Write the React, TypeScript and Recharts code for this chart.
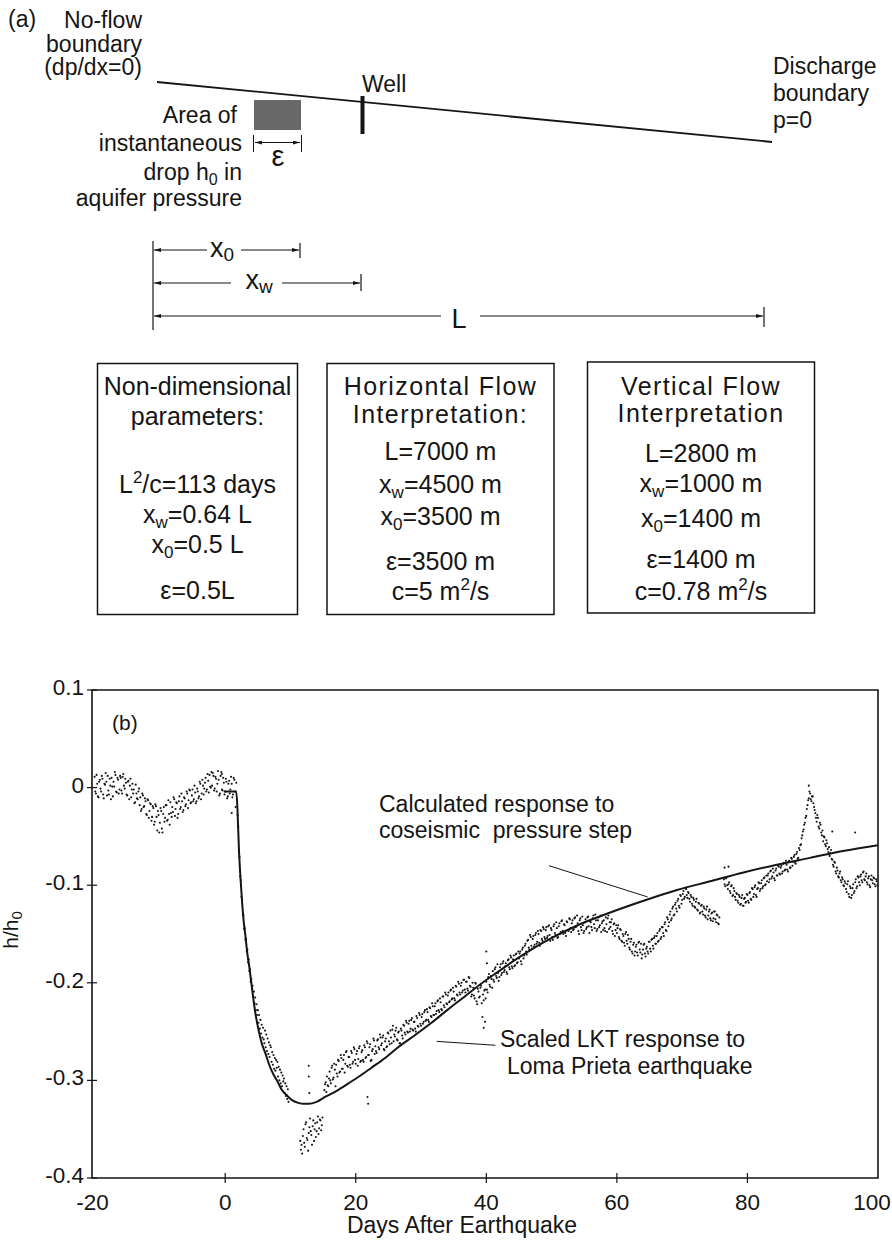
import React from "react";
import {
  ComposedChart,
  Scatter,
  Line,
  XAxis,
  YAxis,
  ReferenceArea,
  ReferenceLine,
} from "recharts";

const FONT = '"Liberation Sans", Arial, Helvetica, sans-serif';
const INK = "#151515";

// ---- panel (b) data ----
const dayTicks = [-20, 0, 20, 40, 60, 80, 100];
const ratioTicks = [0.1, 0, -0.1, -0.2, -0.3, -0.4];
const dayDomain = [-20.4, 100];
const ratioDomain = [-0.4, 0.1];

// calculated response to the coseismic pressure step
const calcDays = [
  -0.2, 1.7, 1.9, 2.1, 2.35, 2.6, 2.85, 3.1, 3.4, 3.7, 4.1, 4.6, 5.1, 5.6, 6.2,
  6.8, 7.4, 8.0, 8.7, 9.4, 10.2, 11.2, 12.0, 12.8, 14.0, 15.3, 17.0, 18.9, 20.5,
  22.4, 24.5, 26.5, 29.0, 31.6, 34.0, 36.7, 39.0, 41.3, 45.0, 48.9, 54.0, 59.0,
  64.1, 69.2, 74.3, 79.4, 84.5, 89.6, 94.6, 100,
];
const calcValues = [
  -0.004, -0.004, -0.025, -0.062, -0.093, -0.118, -0.138, -0.152, -0.17, -0.184,
  -0.205, -0.23, -0.248, -0.262, -0.273, -0.285, -0.294, -0.301, -0.31, -0.315,
  -0.32, -0.323, -0.324, -0.324, -0.322, -0.317, -0.311, -0.303, -0.296, -0.287,
  -0.277, -0.266, -0.254, -0.241, -0.228, -0.214, -0.202, -0.191, -0.174, -0.158,
  -0.141, -0.128, -0.116, -0.105, -0.096, -0.087, -0.079, -0.072, -0.065, -0.059,
];

// scaled LKT record: first entry is the day, then samples every 0.1 day
const SAMPLE_STEP = 0.1;
const observedRows: (number | null)[][] = [
  [-20, 0.011, -0.004, -0.006, 0.013, 0.004, -0.009, -0.01, 0.006, 0.008, -0.001],
  [-19, -0.004, 0.012, 0.009, -0.007, -0.011, 0.004, 0.003, 0.015, 0.006, -0.008],
  [-18, 0.012, -0.003, -0.007, 0.009, 0.002, -0.012, 0.01, 0.001, -0.009, 0.006],
  [-17, 0.001, 0.016, 0.013, -0.004, -0.005, 0.01, 0.008, -0.006, -0.002, 0.012],
  [-16, 0.01, -0.003, -0.006, 0.011, 0.014, 0.002, -0.001, 0.009, 0.005, -0.007],
  [-15, -0.008, 0.006, 0.007, -0.012, 0.002, 0.009, -0.01, -0.002, 0.004, -0.006],
  [-14, -0.002, -0.016, -0.015, 0.003, -0.006, -0.011, -0.012, -0.004, -0.001, -0.018],
  [-13, -0.01, -0.024, -0.022, -0.006, -0.008, -0.02, -0.019, -0.011, -0.014, -0.027],
  [-12, -0.028, -0.012, -0.013, -0.031, -0.024, -0.016, -0.017, -0.034, -0.03, -0.019],
  [-11, -0.021, -0.038, -0.035, -0.017, -0.019, -0.03, -0.044, -0.024, -0.028, -0.046],
  [-10, -0.036, -0.021, -0.024, -0.042, -0.046, -0.027, -0.02, -0.035, -0.031, -0.018],
  [-9, -0.018, -0.034, -0.033, -0.013, -0.027, -0.038, -0.015, -0.026, -0.03, -0.02],
  [-8, -0.025, -0.01, -0.012, -0.029, -0.022, -0.015, -0.016, -0.031, -0.027, -0.014],
  [-7, -0.009, -0.022, -0.02, -0.006, -0.014, -0.025, -0.023, -0.01, -0.011, -0.019],
  [-6, -0.017, -0.004, -0.006, -0.021, -0.013, -0.002, -0.003, -0.016, -0.015, -0.008],
  [-5, -0.002, -0.014, -0.012, 0.002, -0.005, -0.016, -0.014, -0.001, -0.004, -0.011],
  [-4, -0.009, 0.006, 0.004, -0.012, -0.006, 0.008, 0.002, -0.007, -0.001, 0.005],
  [-3, 0.01, -0.004, -0.002, 0.014, 0.007, -0.005, 0.013, 0.001, 0.0, 0.016],
  [-2, 0.002, 0.015, 0.012, -0.003, -0.001, 0.011, 0.009, -0.004, 0.004, 0.017],
  [-1, 0.008, -0.008, -0.006, 0.012, 0.016, -0.002, -0.003, 0.01, 0.005, -0.007],
  [0, -0.004, 0.009, 0.006, -0.011, -0.009, 0.004, 0.007, -0.006, -0.002, 0.011],
  [1, 0.004, -0.01, -0.007, 0.01, 0.008, -0.004, -0.02, 0.005, -0.012, -0.028],
  [2, -0.04, -0.066, -0.071, -0.091, -0.095, -0.112, -0.115, -0.13, -0.131, -0.145],
  [3, -0.144, -0.156, -0.155, -0.168, -0.166, -0.179, -0.176, -0.188, -0.186, -0.199],
  [4, -0.196, -0.206, -0.203, -0.214, -0.209, -0.221, -0.215, -0.228, -0.222, -0.233],
  [5, -0.228, -0.241, -0.233, -0.247, -0.238, -0.252, -0.243, -0.256, -0.246, -0.258],
  [6, -0.262, -0.249, -0.266, -0.253, -0.27, -0.257, -0.273, -0.261, -0.276, -0.264],
  [7, -0.266, -0.281, -0.271, -0.284, -0.274, -0.288, -0.277, -0.29, -0.279, -0.287],
  [8, -0.281, -0.296, -0.286, -0.3, -0.289, -0.303, -0.292, -0.306, -0.295, -0.301],
  [9, -0.298, -0.313, -0.303, -0.316, -0.306, -0.319, -0.309, -0.322, null, null],
  [11, null, null, null, null, null, -0.362, -0.371, -0.366, -0.375, -0.357],
  [12, -0.35, -0.364, -0.368, -0.345, -0.343, -0.359, -0.361, -0.372, -0.354, -0.348],
  [13, -0.339, -0.352, -0.356, -0.366, -0.347, -0.341, -0.362, -0.35, -0.344, -0.358],
  [14, -0.352, -0.343, -0.337, -0.355, -0.349, -0.34, -0.341, -0.351, -0.346, -0.338],
  [15, null, null, -0.31, -0.304, -0.302, -0.312, -0.296, -0.305, -0.306, -0.298],
  [16, -0.291, -0.3, -0.303, -0.287, -0.285, -0.299, -0.297, -0.283, -0.289, -0.306],
  [17, -0.284, -0.293, -0.296, -0.279, -0.28, -0.292, -0.291, -0.274, -0.277, -0.288],
  [18, -0.288, -0.279, -0.274, -0.292, -0.283, -0.271, -0.27, -0.285, -0.286, -0.276],
  [19, -0.276, -0.284, -0.287, -0.27, -0.272, -0.283, -0.281, -0.266, -0.268, -0.279],
  [20, -0.283, -0.273, -0.27, -0.285, -0.278, -0.267, -0.265, -0.281, -0.28, -0.271],
  [21, -0.269, -0.279, -0.281, -0.264, -0.266, -0.277, -0.276, -0.26, -0.262, -0.274],
  [22, -0.274, -0.266, -0.263, -0.28, -0.279, -0.27, -0.268, -0.257, -0.259, -0.273],
  [23, -0.265, -0.27, -0.272, -0.259, -0.258, -0.266, -0.268, -0.253, -0.256, -0.264],
  [24, -0.262, -0.256, -0.254, -0.268, -0.269, -0.26, -0.257, -0.266, -0.265, -0.251],
  [25, -0.252, -0.26, -0.263, -0.249, -0.256, -0.262, -0.248, -0.244, -0.26, -0.253],
  [26, -0.255, -0.249, -0.246, -0.258, -0.259, -0.251, -0.25, -0.262, -0.262, -0.247],
  [27, -0.249, -0.254, -0.257, -0.243, -0.244, -0.251, -0.253, -0.239, -0.241, -0.25],
  [28, -0.251, -0.242, -0.239, -0.25, -0.247, -0.238, -0.236, -0.248, -0.249, -0.24],
  [29, -0.24, -0.247, -0.25, -0.234, -0.236, -0.244, -0.245, -0.231, -0.233, -0.242],
  [30, -0.244, -0.235, -0.232, -0.242, -0.24, -0.23, -0.228, -0.239, -0.238, -0.227],
  [31, -0.23, -0.238, -0.24, -0.225, -0.226, -0.234, -0.235, -0.221, -0.224, -0.233],
  [32, -0.233, -0.224, -0.221, -0.232, -0.229, -0.219, -0.218, -0.228, -0.23, -0.216],
  [33, -0.22, -0.227, -0.228, -0.214, -0.214, -0.223, -0.225, -0.21, -0.212, -0.221],
  [34, -0.222, -0.213, -0.21, -0.22, -0.219, -0.208, -0.207, -0.217, -0.216, -0.205],
  [35, -0.209, -0.216, -0.218, -0.203, -0.204, -0.212, -0.213, -0.199, -0.201, -0.21],
  [36, -0.212, -0.203, -0.2, -0.21, -0.208, -0.197, -0.197, -0.207, -0.21, -0.199],
  [37, -0.199, -0.206, -0.208, -0.194, -0.195, -0.203, -0.204, -0.214, -0.212, -0.2],
  [38, -0.205, -0.213, -0.216, -0.2, -0.201, -0.219, -0.222, -0.206, -0.209, -0.215],
  [39, -0.214, -0.205, -0.203, -0.221, -0.235, -0.212, -0.218, -0.208, -0.207, -0.216],
  [40, -0.199, -0.207, -0.21, -0.194, -0.191, -0.202, -0.204, -0.193, -0.196, -0.205],
  [41, -0.188, -0.197, -0.199, -0.186, -0.184, -0.193, -0.195, -0.181, -0.19, -0.198],
  [42, -0.194, -0.184, -0.181, -0.192, -0.19, -0.18, -0.178, -0.189, -0.187, -0.183],
  [43, -0.18, -0.189, -0.191, -0.177, -0.176, -0.184, -0.186, -0.172, -0.174, -0.183],
  [44, -0.185, -0.176, -0.172, -0.183, -0.182, -0.171, -0.17, -0.18, -0.179, -0.168],
  [45, -0.175, -0.17, -0.168, -0.178, -0.181, -0.166, -0.164, -0.175, -0.172, -0.162],
  [46, -0.16, -0.168, -0.171, -0.157, -0.156, -0.164, -0.166, -0.151, -0.153, -0.162],
  [47, -0.165, -0.155, -0.152, -0.163, -0.161, -0.151, -0.149, -0.16, -0.158, -0.147],
  [48, -0.15, -0.159, -0.162, -0.146, -0.147, -0.155, -0.157, -0.143, -0.145, -0.153],
  [49, -0.155, -0.146, -0.143, -0.154, -0.152, -0.142, -0.141, -0.151, -0.157, -0.144],
  [50, -0.146, -0.153, -0.156, -0.142, -0.14, -0.149, -0.151, -0.138, -0.144, -0.154],
  [51, -0.153, -0.142, -0.139, -0.15, -0.148, -0.137, -0.136, -0.147, -0.15, -0.14],
  [52, -0.141, -0.149, -0.152, -0.137, -0.138, -0.146, -0.147, -0.134, -0.135, -0.144],
  [53, -0.148, -0.139, -0.136, -0.146, -0.145, -0.134, -0.133, -0.143, -0.142, -0.131],
  [54, -0.139, -0.147, -0.15, -0.136, -0.134, -0.143, -0.146, -0.132, -0.141, -0.149],
  [55, -0.147, -0.138, -0.135, -0.145, -0.143, -0.133, -0.132, -0.142, -0.149, -0.137],
  [56, -0.138, -0.143, -0.146, -0.134, -0.131, -0.14, -0.144, -0.13, -0.136, -0.147],
  [57, -0.145, -0.136, -0.133, -0.143, -0.141, -0.131, -0.148, -0.139, -0.137, -0.146],
  [58, -0.136, -0.144, -0.147, -0.133, -0.14, -0.148, -0.134, -0.131, -0.145, -0.138],
  [59, -0.143, -0.138, -0.135, -0.147, -0.15, -0.14, -0.139, -0.152, -0.146, -0.141],
  [60, -0.149, -0.144, -0.141, -0.153, -0.155, -0.145, -0.146, -0.157, -0.158, -0.15],
  [61, -0.152, -0.159, -0.162, -0.15, -0.148, -0.157, -0.16, -0.151, -0.155, -0.164],
  [62, -0.166, -0.158, -0.155, -0.168, -0.17, -0.161, -0.159, -0.172, -0.168, -0.163],
  [63, -0.161, -0.169, -0.172, -0.159, -0.158, -0.166, -0.169, -0.16, -0.175, -0.171],
  [64, -0.166, -0.161, -0.16, -0.17, -0.173, -0.165, -0.163, -0.168, -0.17, -0.158],
  [65, -0.158, -0.165, -0.168, -0.156, -0.155, -0.162, -0.165, -0.154, -0.152, -0.16],
  [66, -0.16, -0.152, -0.149, -0.158, -0.157, -0.147, -0.145, -0.155, -0.153, -0.143],
  [67, -0.143, -0.149, -0.152, -0.14, -0.138, -0.146, -0.147, -0.133, -0.135, -0.142],
  [68, -0.138, -0.13, -0.127, -0.136, -0.134, -0.124, -0.122, -0.131, -0.13, -0.12],
  [69, -0.118, -0.124, -0.127, -0.116, -0.114, -0.121, -0.123, -0.11, -0.111, -0.119],
  [70, -0.115, -0.109, -0.106, -0.114, -0.112, -0.103, -0.104, -0.11, -0.113, -0.107],
  [71, -0.108, -0.114, -0.117, -0.11, -0.112, -0.119, -0.121, -0.113, -0.115, -0.122],
  [72, -0.123, -0.117, -0.114, -0.125, -0.126, -0.118, -0.119, -0.129, -0.128, -0.121],
  [73, -0.12, -0.127, -0.13, -0.122, -0.124, -0.131, -0.133, -0.125, -0.122, -0.135],
  [74, -0.131, -0.127, -0.125, -0.134, -0.136, -0.129, -0.128, -0.137, -0.134, -0.127],
  [75, -0.127, -0.135, -0.138, -0.13, -0.131, -0.139, -0.14, -0.133, null, null],
  [76, null, null, null, null, -0.094, -0.099, -0.101, -0.093, -0.092, -0.1],
  [77, -0.104, -0.099, -0.097, -0.106, -0.108, -0.101, -0.1, -0.111, -0.11, -0.103],
  [78, -0.106, -0.112, -0.115, -0.108, -0.109, -0.116, -0.118, -0.11, -0.112, -0.12],
  [79, -0.119, -0.113, -0.11, -0.121, -0.121, -0.114, -0.113, -0.118, -0.117, -0.109],
  [80, -0.11, -0.116, -0.118, -0.108, -0.107, -0.114, -0.115, -0.103, -0.104, -0.112],
  [81, -0.109, -0.102, -0.1, -0.11, -0.112, -0.104, -0.103, -0.097, -0.098, -0.106],
  [82, -0.104, -0.098, -0.095, -0.103, -0.101, -0.093, -0.092, -0.1, -0.099, -0.09],
  [83, -0.096, -0.09, -0.088, -0.097, -0.094, -0.086, -0.085, -0.093, -0.091, -0.083],
  [84, -0.087, -0.093, -0.095, -0.085, -0.083, -0.09, -0.09, -0.08, -0.081, -0.088],
  [85, -0.089, -0.082, -0.08, -0.088, -0.086, -0.078, -0.077, -0.085, -0.084, -0.075],
  [86, -0.079, -0.084, -0.086, -0.076, -0.075, -0.082, -0.082, -0.072, -0.073, -0.08],
  [87, -0.076, -0.071, -0.069, -0.077, -0.078, -0.068, -0.066, -0.073, -0.072, -0.062],
  [88, -0.064, -0.059, -0.058, -0.052, -0.049, -0.045, -0.043, -0.038, -0.036, -0.031],
  [89, -0.029, -0.022, -0.018, -0.013, -0.011, -0.004, -0.006, -0.012, -0.014, -0.009],
  [90, -0.009, -0.016, -0.02, -0.023, -0.026, -0.031, -0.035, -0.028, -0.031, -0.04],
  [91, -0.042, -0.036, -0.038, -0.046, -0.049, -0.044, -0.055, -0.05, -0.051, -0.058],
  [92, -0.06, -0.054, -0.057, -0.063, -0.066, -0.061, -0.07, -0.067, -0.064, -0.073],
  [93, -0.074, -0.079, -0.081, -0.076, -0.077, -0.086, -0.088, -0.082, -0.085, -0.091],
  [94, -0.092, -0.088, -0.086, -0.095, -0.097, -0.092, -0.094, -0.1, -0.101, -0.096],
  [95, -0.098, -0.104, -0.107, -0.099, -0.096, -0.109, -0.112, -0.101, -0.103, -0.113],
  [96, -0.11, -0.103, -0.099, -0.108, -0.106, -0.097, -0.094, -0.103, -0.101, -0.091],
  [97, -0.092, -0.097, -0.1, -0.091, -0.089, -0.095, -0.097, -0.087, -0.086, -0.094],
  [98, -0.095, -0.091, -0.088, -0.097, -0.099, -0.093, -0.091, -0.1, -0.102, -0.094],
  [99, -0.09, -0.095, -0.098, -0.092, -0.093, -0.099, -0.101, -0.094, -0.096, -0.1],
];

// isolated readings off the main cloud
const strayDays = [-0.5, 1.0, 12.8, 12.8, 12.9, 21.8, 21.9, 39.6, 39.8, 40.0, 40.1, 76.5, 77.1, 89.4, 93.0, 96.5];
const strayValues = [0.014, -0.026, -0.285, -0.296, -0.313, -0.317, -0.324, -0.246, -0.24, -0.168, -0.18, -0.082, -0.081, 0.002, -0.045, -0.046];

const calcData = calcDays.map((day, i) => ({ day, calc: calcValues[i] }));
const observedData = [
  ...observedRows.flatMap((row) =>
    row
      .slice(1)
      .map((v, i) =>
        v === null ? null : { day: (row[0] as number) + i * SAMPLE_STEP, obs: v }
      )
      .filter((p) => p !== null)
  ),
  ...strayDays.map((day, i) => ({ day, obs: strayValues[i] })),
];

// chart geometry inside the svg (svg placed at page y = CHART_TOP)
const CHART_TOP = 640;
const PLOT_LEFT = 92;
const PLOT_BOTTOM = 538;

const DayTick = (props: any) => {
  const { x, payload } = props;
  const edge = payload.value === -20 || payload.value === 100;
  const shift = payload.value === 100 ? -6 : payload.value === -20 ? -2 : 0;
  return (
    <g>
      {!edge && (
        <line x1={x} x2={x} y1={PLOT_BOTTOM - 5} y2={PLOT_BOTTOM + 5} stroke={INK} strokeWidth={1.2} />
      )}
      <text x={x + shift} y={PLOT_BOTTOM + 32} textAnchor="middle" fontSize={22.5} fill={INK} fontFamily={FONT}>
        {String(payload.value)}
      </text>
    </g>
  );
};

const RatioTick = (props: any) => {
  const { y, payload } = props;
  return (
    <g>
      <line x1={PLOT_LEFT - 5} x2={PLOT_LEFT + 5} y1={y} y2={y} stroke={INK} strokeWidth={1.2} />
      <text x={PLOT_LEFT - 8} y={y + 5} textAnchor="end" fontSize={22.5} fill={INK} fontFamily={FONT}>
        {String(payload.value)}
      </text>
    </g>
  );
};

const dot = (p: any) => <circle cx={p.cx} cy={p.cy} r={1.05} fill={INK} />;

function Diagram() {
  const t = { fontFamily: FONT, fill: INK };
  const wide = { letterSpacing: 1.4 };
  return (
    <svg width={892} height={640} style={{ position: "absolute", left: 0, top: 0 }}>
      <defs>
        <marker
          id="ah"
          viewBox="0 0 10 10"
          refX="10"
          refY="5"
          markerWidth="7"
          markerHeight="4"
          markerUnits="userSpaceOnUse"
          preserveAspectRatio="none"
          orient="auto-start-reverse"
        >
          <path d="M0,0 L10,5 L0,10 z" fill={INK} />
        </marker>
      </defs>
      <g {...t} fontSize={23}>
        <text x={8} y={27}>(a)</text>
        <text x={142} y={28} textAnchor="end">No-flow</text>
        <text x={142} y={52} textAnchor="end">boundary</text>
        <text x={142} y={75} textAnchor="end">(dp/dx=0)</text>
        <text x={362} y={92}>Well</text>
        <text x={773} y={74}>Discharge</text>
        <text x={773} y={101}>boundary</text>
        <text x={773} y={128}>p=0</text>
        <text x={237} y={123} textAnchor="end">Area of</text>
        <text x={242} y={151} textAnchor="end">instantaneous</text>
        <text x={242} y={180} textAnchor="end">
          drop h<tspan fontSize={16} dy={5}>0</tspan>
          <tspan dy={-5}> in</tspan>
        </text>
        <text x={242} y={206} textAnchor="end">aquifer pressure</text>
      </g>

      <line x1={157} y1={82} x2={772} y2={142} stroke={INK} strokeWidth={1.8} />
      <rect x={360.5} y={96} width={4} height={38} fill={INK} />
      <rect x={254} y={100} width={47} height={30} fill="#686868" />

      {/* epsilon width */}
      <line x1={253.5} x2={253.5} y1={135} y2={152} stroke={INK} strokeWidth={1} />
      <line x1={301.5} x2={301.5} y1={135} y2={152} stroke={INK} strokeWidth={1} />
      <line x1={255} x2={300} y1={142.5} y2={142.5} stroke={INK} strokeWidth={1} markerStart="url(#ah)" markerEnd="url(#ah)" />
      <text x={278} y={166} textAnchor="middle" fontSize={29} {...t}>ε</text>

      {/* dimension lines */}
      <line x1={153} x2={153} y1={241} y2={330} stroke={INK} strokeWidth={1.2} />
      <line x1={300} x2={300} y1={243} y2={258} stroke={INK} strokeWidth={1.2} />
      <line x1={361} x2={361} y1={274} y2={291} stroke={INK} strokeWidth={1.2} />
      <line x1={764} x2={764} y1={307} y2={327} stroke={INK} strokeWidth={1.2} />
      <line x1={154} x2={207} y1={250} y2={250} stroke={INK} strokeWidth={1} markerStart="url(#ah)" />
      <line x1={241} x2={299} y1={250} y2={250} stroke={INK} strokeWidth={1} markerEnd="url(#ah)" />
      <line x1={154} x2={231} y1={283} y2={283} stroke={INK} strokeWidth={1} markerStart="url(#ah)" />
      <line x1={282} x2={360} y1={283} y2={283} stroke={INK} strokeWidth={1} markerEnd="url(#ah)" />
      <line x1={154} x2={441} y1={316} y2={316} stroke={INK} strokeWidth={1} markerStart="url(#ah)" />
      <line x1={480} x2={763} y1={316} y2={316} stroke={INK} strokeWidth={1} markerEnd="url(#ah)" />
      <g {...t} fontSize={27} textAnchor="middle">
        <text x={222} y={257}>
          x<tspan fontSize={19} dy={4}>0</tspan>
        </text>
        <text x={259} y={289}>
          x<tspan fontSize={19} dy={4}>w</tspan>
        </text>
        <text x={459} y={328}>L</text>
      </g>

      {/* parameter boxes */}
      <rect x={97.5} y={363.5} width={200} height={251} fill="none" stroke={INK} strokeWidth={1.5} />
      <rect x={327} y={363.5} width={227} height={251} fill="none" stroke={INK} strokeWidth={1.5} />
      <rect x={587.5} y={362} width={227} height={251} fill="none" stroke={INK} strokeWidth={1.5} />
      <g {...t} fontSize={25} textAnchor="middle">
        <text x={197.5} y={395}>Non-dimensional</text>
        <text x={197.5} y={425}>parameters:</text>
        <text x={197.5} y={493}>
          L<tspan fontSize={17} dy={-10}>2</tspan>
          <tspan dy={10}>/c=113 days</tspan>
        </text>
        <text x={197.5} y={523}>
          x<tspan fontSize={17} dy={5}>w</tspan>
          <tspan dy={-5}>=0.64 L</tspan>
        </text>
        <text x={197.5} y={553}>
          x<tspan fontSize={17} dy={5}>0</tspan>
          <tspan dy={-5}>=0.5 L</tspan>
        </text>
        <text x={197.5} y={599}>ε=0.5L</text>

        <text x={440.5} y={395} style={wide}>Horizontal Flow</text>
        <text x={440.5} y={423} style={wide}>Interpretation:</text>
        <text x={440.5} y={460}>L=7000 m</text>
        <text x={440.5} y={493}>
          x<tspan fontSize={17} dy={5}>w</tspan>
          <tspan dy={-5}>=4500 m</tspan>
        </text>
        <text x={440.5} y={525}>
          x<tspan fontSize={17} dy={5}>0</tspan>
          <tspan dy={-5}>=3500 m</tspan>
        </text>
        <text x={440.5} y={570}>ε=3500 m</text>
        <text x={440.5} y={600}>
          c=5 m<tspan fontSize={17} dy={-10}>2</tspan>
          <tspan dy={10}>/s</tspan>
        </text>

        <text x={701} y={395} style={wide}>Vertical Flow</text>
        <text x={701} y={422} style={wide}>Interpretation</text>
        <text x={701} y={462}>L=2800 m</text>
        <text x={701} y={492}>
          x<tspan fontSize={17} dy={5}>w</tspan>
          <tspan dy={-5}>=1000 m</tspan>
        </text>
        <text x={701} y={527}>
          x<tspan fontSize={17} dy={5}>0</tspan>
          <tspan dy={-5}>=1400 m</tspan>
        </text>
        <text x={701} y={568}>ε=1400 m</text>
        <text x={701} y={600}>
          c=0.78 m<tspan fontSize={17} dy={-10}>2</tspan>
          <tspan dy={10}>/s</tspan>
        </text>
      </g>
    </svg>
  );
}

function ChartLabels() {
  return (
    <svg
      width={892}
      height={600}
      style={{ position: "absolute", left: 0, top: CHART_TOP, pointerEvents: "none" }}
    >
      <g fontFamily={FONT} fill={INK} fontSize={23}>
        <text x={112} y={90} fontSize={21}>(b)</text>
        <text x={379} y={172}>Calculated response to</text>
        <text x={379} y={198} style={{ whiteSpace: "pre" }}>coseismic  pressure step</text>
        <text x={500} y={407}>Scaled LKT response to</text>
        <text x={507} y={434}>Loma Prieta earthquake</text>
        <text x={462} y={593} textAnchor="middle">Days After Earthquake</text>
        <text x={18} y={290} textAnchor="middle" fontSize={21} transform="rotate(-90 18 290)">
          h/h<tspan fontSize={15} dy={4}>0</tspan>
        </text>
      </g>
    </svg>
  );
}

export default function App() {
  return (
    <div style={{ position: "absolute", left: 0, top: 0, width: 892, height: 1240, background: "#fff" }}>
      <Diagram />
      <div style={{ position: "absolute", left: 0, top: CHART_TOP }}>
        <ComposedChart
          width={892}
          height={600}
          margin={{ top: 50, right: 14, bottom: 32, left: 0 }}
        >
          <XAxis
            dataKey="day"
            type="number"
            domain={dayDomain}
            ticks={dayTicks}
            allowDataOverflow
            axisLine={false}
            tickLine={false}
            height={30}
            tick={<DayTick />}
          />
          <YAxis
            type="number"
            domain={ratioDomain}
            ticks={ratioTicks}
            allowDataOverflow
            axisLine={false}
            tickLine={false}
            width={92}
            tick={<RatioTick />}
          />
          <ReferenceArea
            x1={dayDomain[0]}
            x2={dayDomain[1]}
            y1={ratioDomain[0]}
            y2={ratioDomain[1]}
            fill="none"
            fillOpacity={0}
            stroke={INK}
            strokeWidth={1.6}
            ifOverflow="visible"
          />
          <Scatter data={observedData} dataKey="obs" shape={dot} isAnimationActive={false} />
          <Line
            data={calcData}
            dataKey="calc"
            type="monotone"
            stroke={INK}
            strokeWidth={2}
            dot={false}
            activeDot={false}
            isAnimationActive={false}
          />
          <ReferenceLine
            segment={[{ x: 49.6, y: -0.08 }, { x: 64.7, y: -0.112 }]}
            stroke={INK}
            strokeWidth={1}
          />
          <ReferenceLine
            segment={[{ x: 32.4, y: -0.26 }, { x: 41.4, y: -0.264 }]}
            stroke={INK}
            strokeWidth={1}
          />
        </ComposedChart>
      </div>
      <ChartLabels />
    </div>
  );
}
